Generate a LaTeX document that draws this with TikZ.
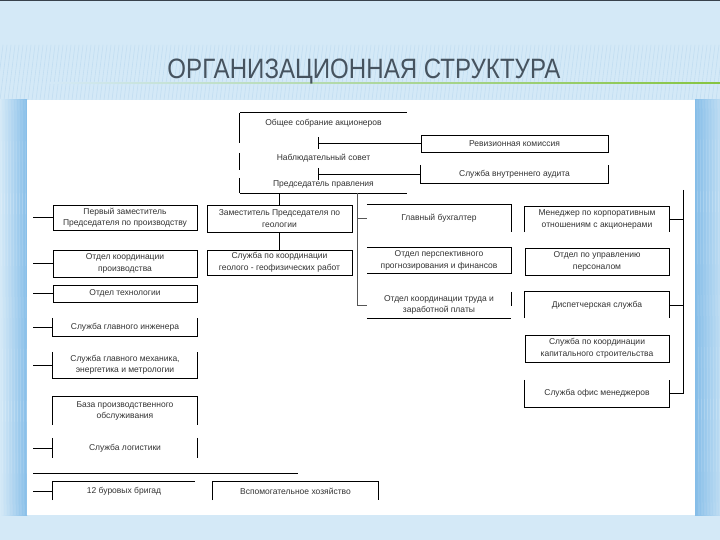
\documentclass[tikz,border=0pt]{standalone}
\usepackage{fontspec}
\setmainfont{Liberation Sans}
\newfontfamily\titlefont[FakeStretch=0.86]{Liberation Sans}
\definecolor{bgc}{HTML}{D4E9F7}
\definecolor{stripe}{HTML}{C2DEF2}
\definecolor{edgeblue}{HTML}{85BDE8}
\definecolor{titlec}{HTML}{46535F}
\definecolor{greenl}{HTML}{86C440}
\definecolor{txt}{HTML}{333333}
\definecolor{spinec}{HTML}{555555}
\tikzset{
  bx/.style={inner sep=0pt, align=center, font=\fontsize{8.5}{11.5}\selectfont, text=txt},
  ln/.style={draw=black, line width=0.9pt},
  full/.style={bx, draw=black, line width=0.9pt},
}
\begin{document}
\begin{tikzpicture}[x=1pt,y=-1pt]
\useasboundingbox (0,0) rectangle (720,540);
% background
\fill[bgc] (0,0) rectangle (720,540);
\fill[titlec!80!black] (0,0) rectangle (720,1.5);
\foreach \i in {-20,-16,...,720} \draw[stripe, line width=0.6pt] (\i,100) -- (\i+7,45);
\shade[left color=bgc, right color=edgeblue] (0,100) rectangle (27,515);
\shade[left color=edgeblue, right color=bgc!70!edgeblue] (695,100) rectangle (720,515);
\foreach \i in {1,4,...,26} \draw[white, opacity=0.2, line width=0.6pt] (\i,100) -- (\i+2,515);
\foreach \i in {697,700,...,719} \draw[white, opacity=0.2, line width=0.6pt] (\i,100) -- (\i+2,515);
\shade[left color=bgc, right color=greenl] (50,82.4) rectangle (720,84);
\fill[white] (27,100) rectangle (695,515);
% title
\node[font=\titlefont\fontsize{28}{30}\selectfont, text=titlec, inner sep=0pt] (title) at (364,72) {ОРГАНИЗАЦИОННАЯ СТРУКТУРА};

% ---------- top block ----------
\node[bx, minimum width=167pt, minimum height=80pt] (topblk) at (323.5,153) {};
\node[bx] (gsa) at (323.5,123) {Общее собрание акционеров};
\node[bx] (ns) at (323.5,158) {Наблюдательный совет};
\node[bx] (pp) at (323.5,184) {Председатель правления};
\draw[ln] (topblk.north west) -- (topblk.north east);
\draw[ln] (topblk.south west) -- (topblk.south east);
\draw[ln] (topblk.north west) -- ++(0,30);
\draw[ln] (topblk.north west) ++(0,40) -- ++(0,17);
\draw[ln] (topblk.north west) ++(0,65) -- (topblk.south west);

\node[full, minimum width=187pt, minimum height=17pt] (rk) at (514.5,143.5) {Ревизионная комиссия};
\node[bx, minimum width=187pt, minimum height=18pt] (sva) at (514.5,174) {Служба внутреннего аудита};
\draw[ln] (sva.north west) -- (sva.south west) -- (sva.south east) -- (sva.north east);

\coordinate (s1) at (318,143.5);
\coordinate (s2) at (318,174);
\draw[ln] (s1) ++(0,-6) -- ++(0,12);
\draw[ln] (s1) -- (rk.west);
\draw[ln] (s2) ++(0,-6) -- ++(0,12);
\draw[ln] (s2) -- (sva.west);

% ---------- left column ----------
\node[full, minimum width=144pt, minimum height=25pt] (pz) at (125,217.5) {Первый заместитель\\Председателя по производству};
\node[full, minimum width=144pt, minimum height=27pt] (okp) at (125,263.5) {Отдел координации\\производства};
\node[full, minimum width=144pt, minimum height=17pt] (ot) at (125,293.5) {Отдел технологии};
\node[bx, minimum width=144pt, minimum height=18pt] (sgi) at (125,327) {Служба главного инженера};
\draw[ln] (sgi.north west) -- (sgi.south west) -- (sgi.south east) -- (sgi.north east);
\node[bx, minimum width=144pt, minimum height=26pt] (sgm) at (125,365) {Служба главного механика,\\энергетика и метрологии};
\draw[ln] (sgm.north west) -- (sgm.south west) -- (sgm.south east) -- (sgm.north east);
\node[bx, minimum width=144pt, minimum height=28pt] (bpo) at (125,411) {База производственного\\обслуживания};
\draw[ln] (bpo.south west) -- (bpo.north west) -- (bpo.north east) -- (bpo.south east);
\node[bx, minimum width=144pt, minimum height=20pt] (sl) at (125,448) {Служба логистики};
\draw[ln] (sl.north west) -- (sl.south west);
\draw[ln] (sl.north east) -- (sl.south east);
\node[bx, minimum width=142pt, minimum height=18pt] (bb) at (124,491) {12 буровых бригад};
\draw[ln] (bb.south west) -- (bb.north west) -- (bb.north east);

\coordinate (lx) at (33,0);
\foreach \n in {pz,okp,ot,sgi,sgm,sl,bb} \draw[ln] (\n.west -| lx) -- (\n.west);
\coordinate (ll1) at (33,473);
\coordinate (ll2) at (298,473);
\draw[ln] (ll1) -- (ll2);

% ---------- middle column ----------
\node[full, minimum width=145pt, minimum height=27pt] (zpg) at (279.5,218.5) {Заместитель Председателя по\\геологии};
\node[full, minimum width=145pt, minimum height=25pt] (skg) at (279.5,262.5) {Служба по координации\\геолого - геофизических работ};
\draw[ln] (topblk.south -| zpg.north) -- (zpg.north);
\draw[ln] (zpg.south) -- (skg.north);
\node[bx, minimum width=165pt, minimum height=18pt] (vsp) at (295.5,491) {Вспомогательное хозяйство};
\draw[ln] (vsp.south west) -- (vsp.north west) -- (vsp.north east) -- (vsp.south east);

% ---------- middle-right column ----------
\node[bx, minimum width=144pt, minimum height=27pt] (gb) at (439,218.5) {Главный бухгалтер};
\draw[ln] (gb.north west) -- (gb.north east) -- (gb.south east);
\node[bx, minimum width=144pt, minimum height=25pt] (opp) at (439,260.5) {Отдел перспективного\\прогнозирования и финансов};
\draw[ln] (opp.north west) -- (opp.north east) -- (opp.south east) -- (opp.south west);
\node[bx, minimum width=144pt, minimum height=26pt] (okt) at (439,305) {Отдел координации труда и\\заработной платы};
\draw[ln] (okt.north east) -- ++(0,14);
\draw[ln] (okt.south west) -- (okt.south east);

\coordinate (mtop) at (357,193);
\draw[spinec, line width=0.7pt] (mtop) |- (okt.west);
\draw[spinec, line width=0.7pt] (mtop |- gb.west) -- (gb.west);

% ---------- right column ----------
\node[bx, minimum width=144pt, minimum height=25pt] (mko) at (597,219.5) {Менеджер по корпоративным\\отношениям с акционерами};
\draw[ln] (mko.south west) -- (mko.north west) -- (mko.north east) -- (mko.south east);
\node[full, minimum width=144pt, minimum height=27pt] (oup) at (597,261.5) {Отдел по управлению\\персоналом};
\node[bx, minimum width=144pt, minimum height=26pt] (ds) at (597,305) {Диспетчерская служба};
\draw[ln] (ds.south west) -- (ds.north west) -- (ds.north east) -- (ds.south east);
\node[full, minimum width=144pt, minimum height=27pt] (skk) at (597,348.5) {Служба по координации\\капитального строительства};
\node[bx, minimum width=144pt, minimum height=27pt] (som) at (597,393.5) {Служба офис менеджеров};
\draw[ln] (som.north west) -- (som.south west) -- (som.south east) -- (som.north east);

\coordinate (rtop) at (683,190);
\draw[ln] (rtop) |- (som.east);
\draw[ln] (rtop |- mko.east) -- (mko.east);
\draw[ln] (rtop |- ds.east) -- (ds.east);
\end{tikzpicture}
\end{document}
